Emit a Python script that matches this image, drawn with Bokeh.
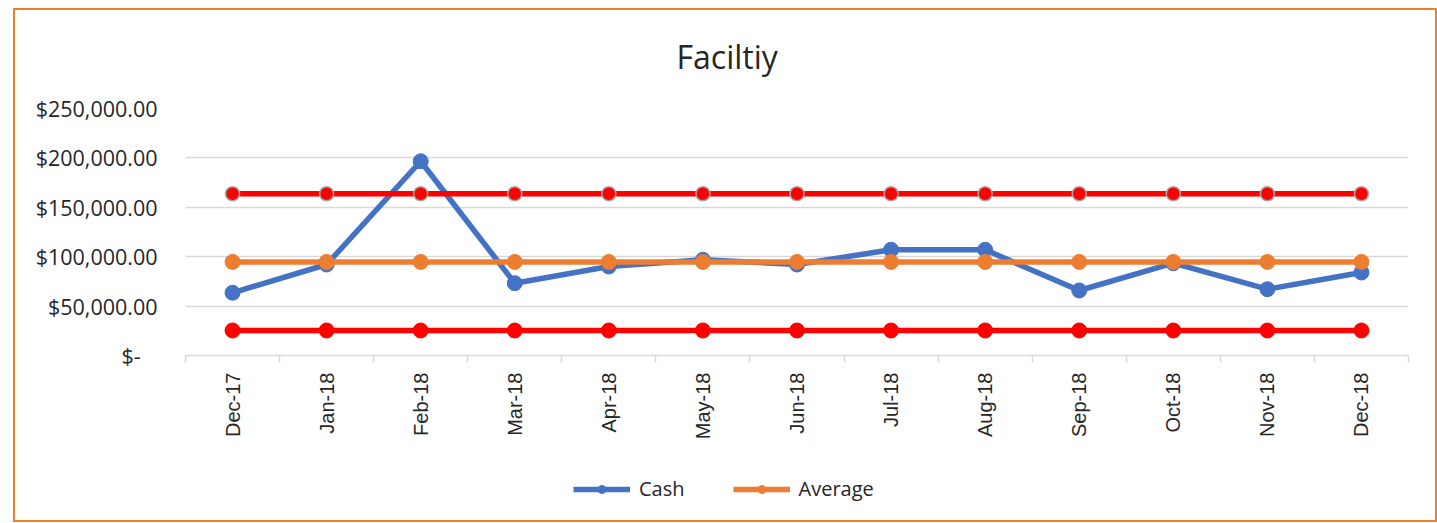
import math
from bokeh.plotting import figure
from bokeh.layouts import column
from bokeh.models import Range1d, FixedTicker, Legend, LegendItem, InlineStyleSheet
from bokeh.embed import file_html
from bokeh.resources import INLINE

# ---- data ----
months = ["Dec-17", "Jan-18", "Feb-18", "Mar-18", "Apr-18", "May-18", "Jun-18",
          "Jul-18", "Aug-18", "Sep-18", "Oct-18", "Nov-18", "Dec-18"]
cash = [63500, 92100, 196600, 73200, 90100, 96900, 92100,
        107000, 107000, 65800, 93400, 67100, 84000]
average = [94700, 94700, 94700, 94700, 94700, 94700, 94700,
           94700, 94700, 94700, 94700, 94700, 94700]
upper_limit = [163700, 163700, 163700, 163700, 163700, 163700, 163700,
               163700, 163700, 163700, 163700, 163700, 163700]
lower_limit = [25300, 25300, 25300, 25300, 25300, 25300, 25300,
               25300, 25300, 25300, 25300, 25300, 25300]
y_ticks = [0, 50000, 100000, 150000, 200000, 250000]
y_tick_labels = ["$-\u00a0\u00a0\u00a0", "$50,000.00", "$100,000.00",
                 "$150,000.00", "$200,000.00", "$250,000.00"]
title_text = "Faciltiy"
series_names = ["Cash", "Average"]

BLUE = "#4472C4"
ORANGE = "#ED7D31"
RED = "#FF0000"
GRID = "#D9D9D9"
TEXT = "#262626"

n = len(months)
xs = [i + 0.5 for i in range(n)]

W = 1437
H_MAIN = 460
H_LEG = 63

p = figure(width=W, height=H_MAIN, x_range=Range1d(0, n), y_range=Range1d(0, 250000),
           output_backend="svg", toolbar_location=None,
           min_border_left=185, min_border_right=W - 1408,
           min_border_top=108, min_border_bottom=H_MAIN - 355)
p.outline_line_color = None
p.background_fill_color = "white"
p.border_fill_color = "white"

# title
p.title.text = title_text
p.title.align = "left"
p.title.offset = 491
p.title.standoff = 61
p.title.text_font = "Open Sans"
p.title.text_font_size = "32px"
p.title.text_font_style = "normal"
p.title.text_color = TEXT

# grids
p.xgrid.visible = False
p.ygrid.ticker = FixedTicker(ticks=y_ticks)
p.ygrid.grid_line_color = GRID
p.ygrid.grid_line_width = 1.5

# y axis
p.yaxis.ticker = FixedTicker(ticks=y_ticks)
p.yaxis.major_label_overrides = {t: l for t, l in zip(y_ticks, y_tick_labels)}
p.yaxis.axis_line_color = None
p.yaxis.major_tick_line_color = None
p.yaxis.major_tick_out = 0
p.yaxis.major_tick_in = 0
p.yaxis.minor_tick_line_color = None
p.yaxis.major_label_standoff = 28
p.yaxis.major_label_text_font = "Open Sans"
p.yaxis.major_label_text_font_size = "21.5px"
p.yaxis.major_label_text_color = TEXT

# x axis
p.xaxis.ticker = FixedTicker(ticks=xs, minor_ticks=list(range(n + 1)))
p.xaxis.major_label_overrides = {x: m for x, m in zip(xs, months)}
p.xaxis.major_label_orientation = math.pi / 2
p.xaxis.axis_line_color = GRID
p.xaxis.axis_line_width = 1.5
p.xaxis.major_tick_line_color = None
p.xaxis.major_tick_out = 0
p.xaxis.major_tick_in = 0
p.xaxis.minor_tick_line_color = GRID
p.xaxis.minor_tick_line_width = 1.5
p.xaxis.minor_tick_out = 7
p.xaxis.minor_tick_in = 0
p.xaxis.major_label_standoff = 10
p.xaxis.major_label_text_font = "Liberation Sans"
p.xaxis.major_label_text_font_size = "20px"
p.xaxis.major_label_text_color = TEXT

# series
p.line(xs, cash, line_color=BLUE, line_width=5.5, line_join="round")
p.scatter(xs, cash, size=15, fill_color=BLUE, line_color=BLUE)
p.line(xs, average, line_color=ORANGE, line_width=5.5)
p.scatter(xs, average, size=15, fill_color=ORANGE, line_color=ORANGE)
p.line(xs, upper_limit, line_color=RED, line_width=5.5)
p.scatter(xs, upper_limit, size=14, fill_color=RED, line_color="#A5A5A5", line_width=1.5)
p.line(xs, lower_limit, line_color=RED, line_width=5.5)
p.scatter(xs, lower_limit, size=15, fill_color=RED, line_color=RED)

# ---- legend strip (its own small figure below the chart) ----
# its ranges are chosen so that the proxy glyphs below fall outside its frame
lf = figure(width=W, height=H_LEG, output_backend="svg", toolbar_location=None,
            x_range=Range1d(0, 1), y_range=Range1d(0, 1),
            min_border=0, min_border_left=0, min_border_right=0,
            min_border_top=0, min_border_bottom=0)
lf.axis.visible = False
lf.grid.visible = False
lf.outline_line_color = None
lf.background_fill_color = "white"
lf.border_fill_color = "white"
leg_cash_line = lf.line(xs[:1], cash[:1], line_color=BLUE, line_width=5.5)
leg_cash_pts = lf.scatter(xs[:1], cash[:1], size=15, fill_color=BLUE, line_color=BLUE)
leg_avg_line = lf.line(xs[:1], average[:1], line_color=ORANGE, line_width=5.5)
leg_avg_pts = lf.scatter(xs[:1], average[:1], size=15, fill_color=ORANGE, line_color=ORANGE)

legend = Legend(items=[LegendItem(label=series_names[0], renderers=[leg_cash_line, leg_cash_pts]),
                       LegendItem(label=series_names[1], renderers=[leg_avg_line, leg_avg_pts])],
                orientation="horizontal", location=(388, 21))
legend.border_line_color = None
legend.background_fill_alpha = 0
legend.label_text_font = "Open Sans"
legend.label_text_font_size = "20px"
legend.label_text_color = TEXT
legend.glyph_width = 57
legend.glyph_height = 20
legend.label_standoff = 9
legend.spacing = 48
legend.padding = 0
legend.margin = 0
lf.add_layout(legend)

layout = column(p, lf, spacing=0)
layout.stylesheets = [InlineStyleSheet(css="""
:host { position: relative; }
:host::after {
  content: "";
  position: absolute;
  left: 12.5px; top: 7.8px; right: 0.5px; bottom: 1px;
  border: 2.6px solid #ED7D31;
  pointer-events: none;
  z-index: 100;
  box-sizing: border-box;
}
""")]

open("out.html", "w").write(file_html(layout, INLINE))
